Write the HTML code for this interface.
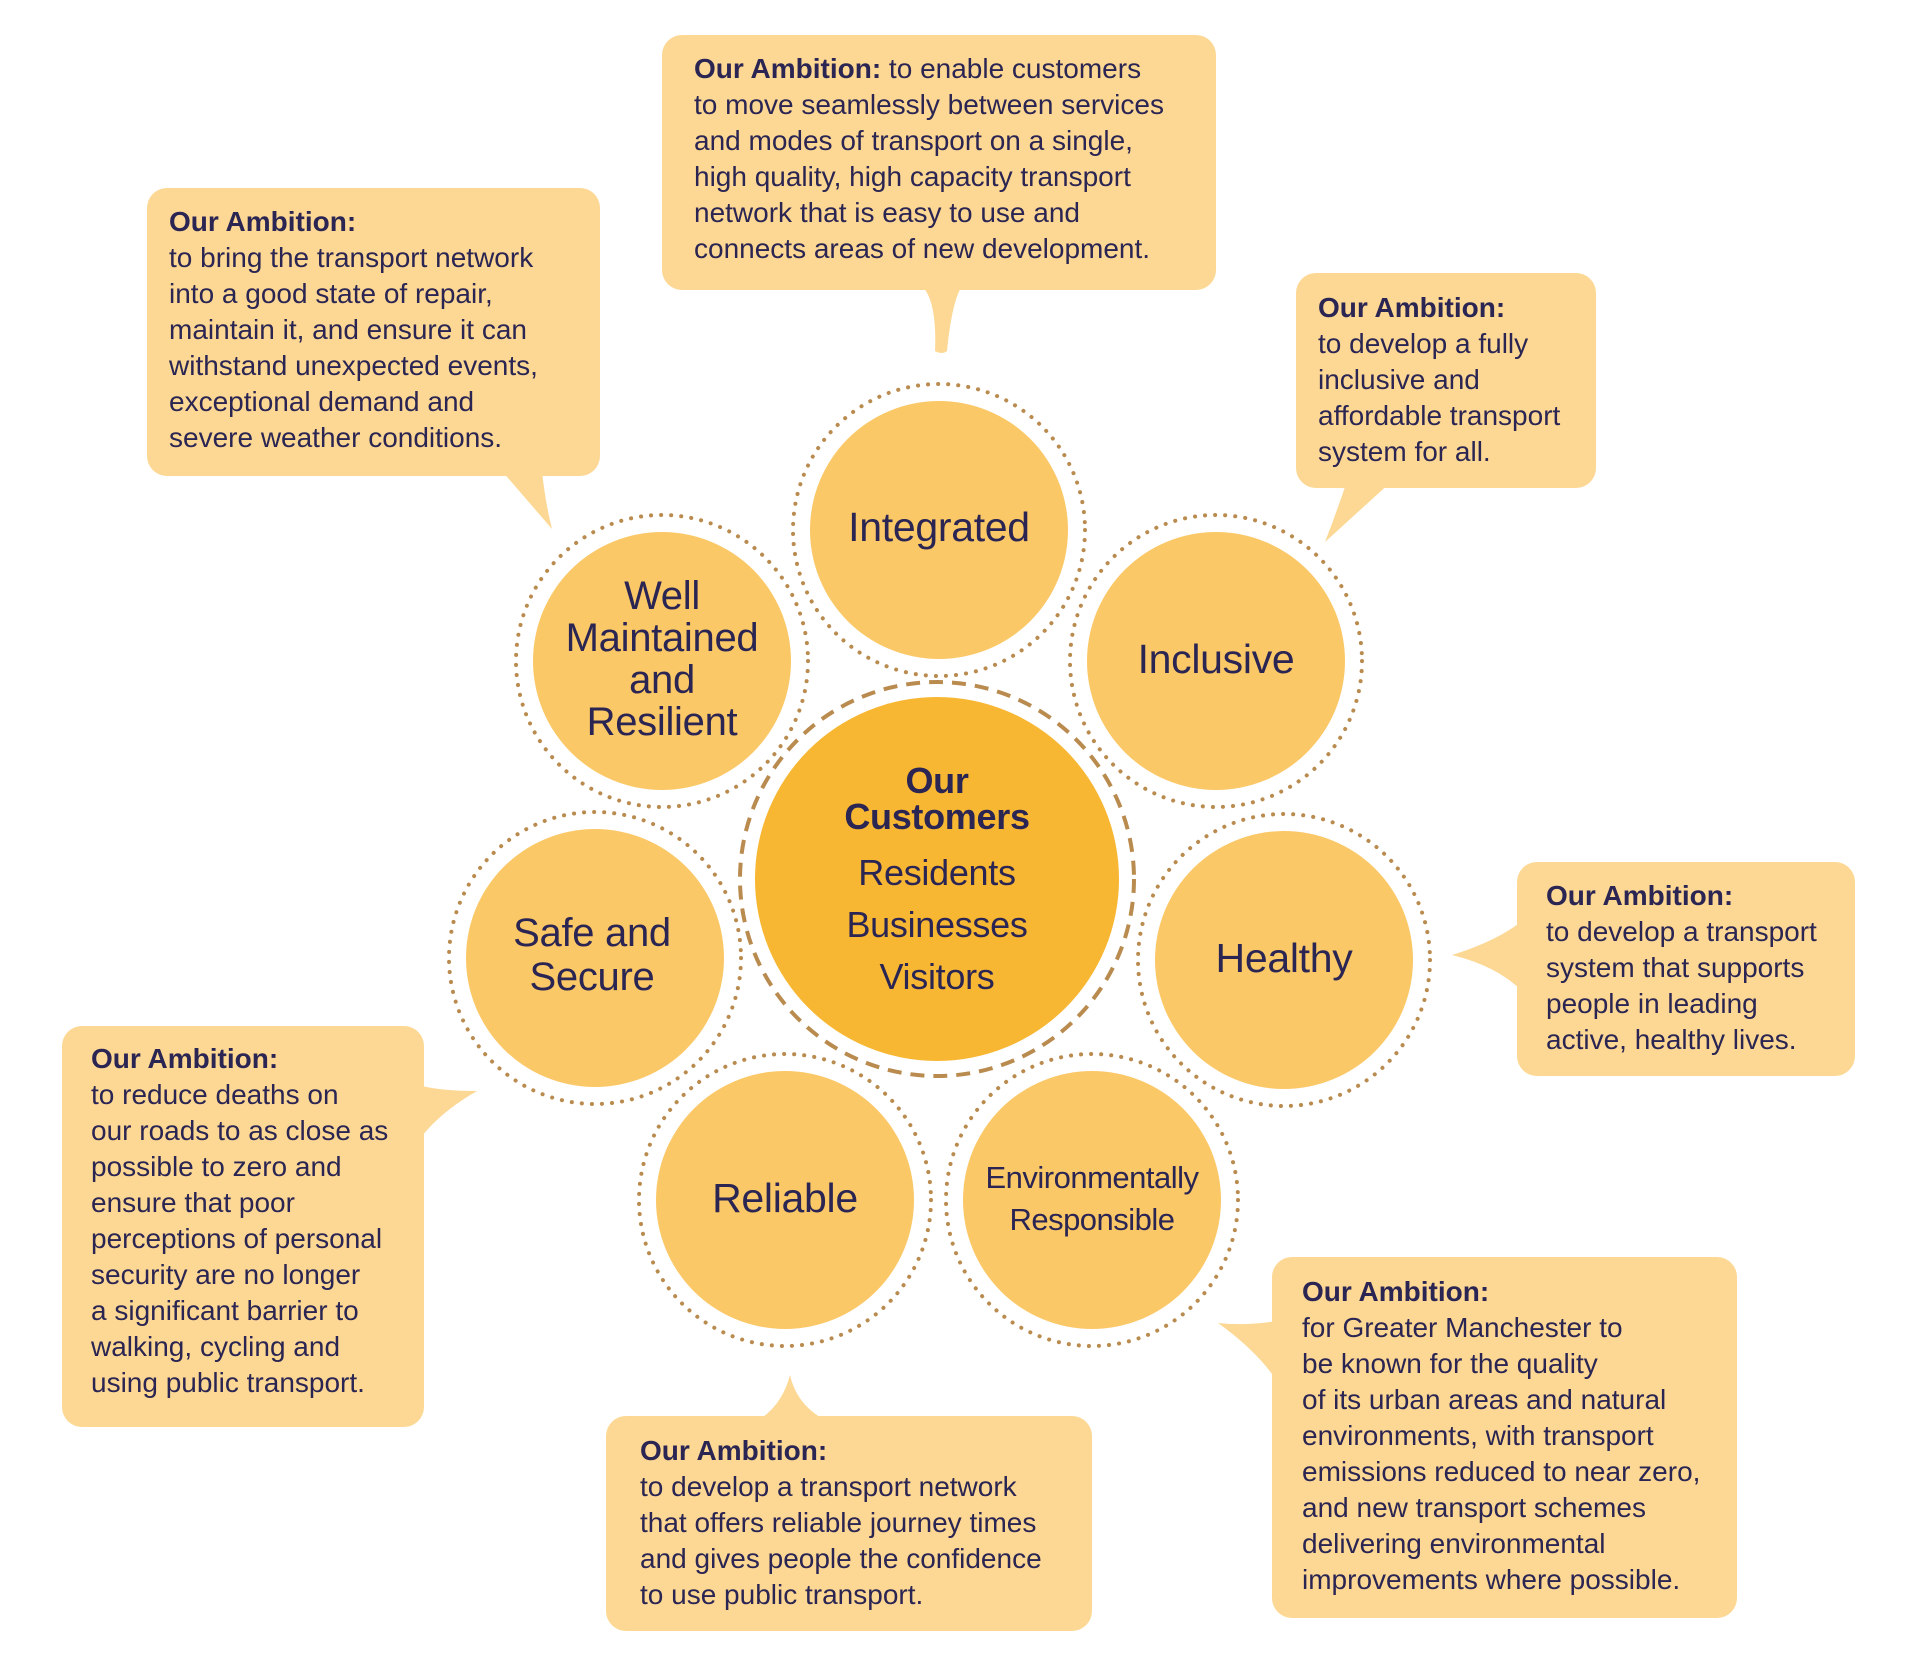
<!DOCTYPE html>
<html><head><meta charset="utf-8"><style>
body{margin:0;width:1920px;height:1657px;background:#fff;position:relative;overflow:hidden;font-family:"Liberation Sans",sans-serif;color:#2a2552}
#w{position:absolute;left:-3px;top:1px;width:1920px;height:1657px}
.b{position:absolute;font-size:28px;line-height:36px;letter-spacing:0px;white-space:nowrap}
.b b{font-weight:bold}
.c{position:absolute;text-align:center;white-space:nowrap;letter-spacing:-0.3px}
</style></head><body><div id="w">
<svg width="1920" height="1657" style="position:absolute;left:0;top:0">
<g fill="#fdd894">
<rect x="665" y="34" width="554" height="255" rx="20"/>
<path d="M925 285 Q940 300 938 350 Q945 354 950 350 Q955 300 965 285Z"/>
<rect x="150" y="187" width="453" height="288" rx="20"/>
<path d="M505 470 L555 528 Q548 500 545 470Z"/>
<rect x="1299" y="272" width="300" height="215" rx="20"/>
<path d="M1350 480 Q1340 510 1328 541 L1395 480Z"/>
<rect x="1520" y="861" width="338" height="214" rx="20"/>
<path d="M1525 920 Q1500 940 1455 954 Q1500 965 1525 990Z"/>
<rect x="65" y="1025" width="362" height="401" rx="20"/>
<path d="M425 1085 Q445 1090 480 1090 Q445 1110 425 1135Z"/>
<rect x="609" y="1415" width="486" height="215" rx="20"/>
<path d="M760 1420 Q785 1405 793 1374 Q800 1405 830 1420Z"/>
<rect x="1275" y="1256" width="465" height="361" rx="20"/>
<path d="M1280 1320 Q1250 1325 1221 1322 Q1260 1350 1280 1380Z"/>
</g>
<g fill="none" stroke="#b98b4f" stroke-width="4" stroke-linecap="round" stroke-dasharray="0.1 10">
<circle cx="942" cy="529" r="146"/>
<circle cx="1219" cy="660" r="146"/>
<circle cx="1287" cy="959" r="146"/>
<circle cx="1095" cy="1199" r="146"/>
<circle cx="788" cy="1199" r="146"/>
<circle cx="598" cy="957" r="146"/>
<circle cx="665" cy="660" r="146"/>
</g>
<circle cx="940" cy="878" r="197" fill="none" stroke="#b98b4f" stroke-width="4" stroke-dasharray="14 9"/>
<g fill="#fbc867">
<circle cx="942" cy="529" r="129"/>
<circle cx="1219" cy="660" r="129"/>
<circle cx="1287" cy="959" r="129"/>
<circle cx="1095" cy="1199" r="129"/>
<circle cx="788" cy="1199" r="129"/>
<circle cx="598" cy="957" r="129"/>
<circle cx="665" cy="660" r="129"/>
</g>
<circle cx="940" cy="878" r="182" fill="#f8b733"/>
</svg>
<div class="b" style="left:697px;top:50px"><b>Our Ambition:</b> to enable customers<br>to move seamlessly between services<br>and modes of transport on a single,<br>high quality, high capacity transport<br>network that is easy to use and<br>connects areas of new development.</div>
<div class="b" style="left:172px;top:203px"><b>Our Ambition:</b><br>to bring the transport network<br>into a good state of repair,<br>maintain it, and ensure it can<br>withstand unexpected events,<br>exceptional demand and<br>severe weather conditions.</div>
<div class="b" style="left:1321px;top:289px"><b>Our Ambition:</b><br>to develop a fully<br>inclusive and<br>affordable transport<br>system for all.</div>
<div class="b" style="left:1549px;top:877px"><b>Our Ambition:</b><br>to develop a transport<br>system that supports<br>people in leading<br>active, healthy lives.</div>
<div class="b" style="left:94px;top:1040px"><b>Our Ambition:</b><br>to reduce deaths on<br>our roads to as close as<br>possible to zero and<br>ensure that poor<br>perceptions of personal<br>security are no longer<br>a significant barrier to<br>walking, cycling and<br>using public transport.</div>
<div class="b" style="left:643px;top:1432px"><b>Our Ambition:</b><br>to develop a transport network<br>that offers reliable journey times<br>and gives people the confidence<br>to use public transport.</div>
<div class="b" style="left:1305px;top:1273px"><b>Our Ambition:</b><br>for Greater Manchester to<br>be known for the quality<br>of its urban areas and natural<br>environments, with transport<br>emissions reduced to near zero,<br>and new transport schemes<br>delivering environmental<br>improvements where possible.</div>
<div class="c" style="left:792px;width:300px;top:503px;font-size:41px">Integrated</div>
<div class="c" style="left:1069px;width:300px;top:635px;font-size:41px">Inclusive</div>
<div class="c" style="left:1137px;width:300px;top:934px;font-size:41px">Healthy</div>
<div class="c" style="left:638px;width:300px;top:1174px;font-size:41px">Reliable</div>
<div class="c" style="left:445px;width:300px;top:910px;font-size:40px;line-height:44px">Safe and<br>Secure</div>
<div class="c" style="left:515px;width:300px;top:574px;font-size:40px;line-height:42px">Well<br>Maintained<br>and<br>Resilient</div>
<div class="c" style="left:960px;width:270px;top:1156px;font-size:31px;line-height:42px;letter-spacing:-0.5px">Environmentally<br>Responsible</div>
<div class="c" style="left:790px;width:300px;top:762px;font-size:36px;line-height:36px;font-weight:bold">Our<br>Customers</div>
<div class="c" style="left:790px;width:300px;top:846px;font-size:36px;line-height:52px">Residents<br>Businesses<br>Visitors</div>
</div></body></html>
